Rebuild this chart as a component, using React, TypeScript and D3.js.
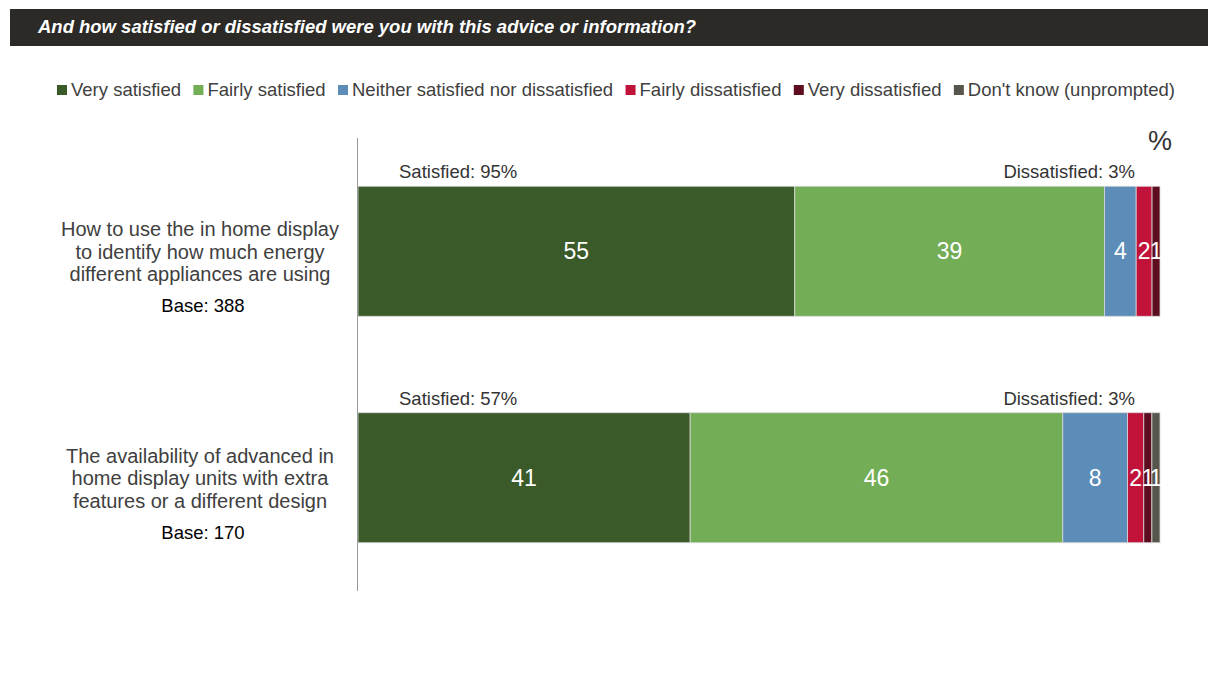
import React, { useEffect, useRef } from "react";
import * as d3 from "d3";

const TITLE = "And how satisfied or dissatisfied were you with this advice or information?";
const seriesNames = [
  "Very satisfied",
  "Fairly satisfied",
  "Neither satisfied nor dissatisfied",
  "Fairly dissatisfied",
  "Very dissatisfied",
  "Don't know (unprompted)",
];
const seriesColors = ["#3a5a29", "#73ad55", "#5b8db8", "#c1133a", "#5e0d1e", "#58554c"];
const categories = [
  ["How to use the in home display", "to identify how much energy", "different appliances are using"],
  ["The availability of advanced in", "home display units with extra", "features or a different design"],
];
const bases = ["Base: 388", "Base: 170"];
const satisfiedLabels = ["Satisfied: 95%", "Satisfied: 57%"];
const dissatisfiedLabels = ["Dissatisfied: 3%", "Dissatisfied: 3%"];
const values1 = [55, 39, 4, 2, 1, 0];
const values2 = [41, 46, 8, 2, 1, 1];
const rows = [values1, values2];

const W = 1208;
const H = 691;
const FONT = "'Liberation Sans', Arial, sans-serif";

export default function App() {
  const ref = useRef<SVGSVGElement | null>(null);
  useEffect(() => {
    const svg = d3.select(ref.current);
    svg.selectAll("*").remove();

    // Title bar
    svg.append("rect").attr("x", 10).attr("y", 9).attr("width", W - 10).attr("height", 37).attr("fill", "#2b2a26");
    svg.append("text").attr("x", 38).attr("y", 33).attr("fill", "#fff")
      .attr("font-family", FONT).attr("font-size", 18).attr("font-weight", "bold").attr("font-style", "italic")
      .attr("textLength", 658).attr("lengthAdjust", "spacingAndGlyphs")
      .text(TITLE);

    // Legend
    const lg = svg.append("g");
    const texts: any[] = [];
    const widths: number[] = [];
    seriesNames.forEach((name) => {
      const t = lg.append("text").attr("y", 96).attr("fill", "#404040")
        .attr("font-family", FONT).attr("font-size", 18.5).text(name);
      texts.push(t);
      widths.push((t.node() as SVGTextElement).getComputedTextLength());
    });
    const startX = 57, endX = 1175;
    const gap = (endX - startX - d3.sum(widths.map((w) => 14 + w))) / (seriesNames.length - 1);
    let lx = startX;
    seriesNames.forEach((_, i) => {
      lg.append("rect").attr("x", lx).attr("y", 85).attr("width", 10).attr("height", 10).attr("fill", seriesColors[i]);
      texts[i].attr("x", lx + 14);
      lx += 14 + widths[i] + gap;
    });

    const x = d3.scaleLinear().domain([0, 1]).range([358, 1160]);
    const y = d3.scaleBand<number>().domain([0, 1]).range([138, 591]).paddingInner(0.426).paddingOuter(0.213);

    // % sign
    svg.append("text").attr("x", 1172).attr("y", 150).attr("text-anchor", "end").attr("fill", "#333")
      .attr("font-family", FONT).attr("font-size", 27).text("%");

    rows.forEach((vals, r) => {
      const total = d3.sum(vals);
      const y0 = y(r)!;
      const bw = y.bandwidth();
      const cy = y0 + bw / 2;
      let cum = 0;
      const g = svg.append("g");
      vals.forEach((v, i) => {
        if (v <= 0) return;
        const xs = x(cum / total);
        const xe = x((cum + v) / total);
        cum += v;
        g.append("rect").attr("x", xs).attr("y", y0).attr("width", xe - xs).attr("height", bw)
          .attr("fill", seriesColors[i]).attr("stroke", "#d8d8d8").attr("stroke-width", 0.8);
        g.append("text").attr("x", (xs + xe) / 2).attr("y", cy + 8).attr("text-anchor", "middle")
          .attr("fill", "#fff").attr("font-family", FONT).attr("font-size", 23).text(String(v));
      });

      svg.append("text").attr("x", 399).attr("y", y0 - 8).attr("fill", "#333")
        .attr("font-family", FONT).attr("font-size", 18.5).text(satisfiedLabels[r]);
      svg.append("text").attr("x", 1135).attr("y", y0 - 8).attr("text-anchor", "end").attr("fill", "#333")
        .attr("font-family", FONT).attr("font-size", 18.5).text(dissatisfiedLabels[r]);

      categories[r].forEach((line, li) => {
        svg.append("text").attr("x", 200).attr("y", cy - 15 + li * 22.5).attr("text-anchor", "middle")
          .attr("fill", "#404040").attr("font-family", FONT).attr("font-size", 20).text(line);
      });
      svg.append("text").attr("x", 203).attr("y", cy + 61).attr("text-anchor", "middle")
        .attr("fill", "#000").attr("font-family", FONT).attr("font-size", 18.5).text(bases[r]);
    });

    // Axis line
    svg.append("line").attr("x1", 357.5).attr("x2", 357.5).attr("y1", 138).attr("y2", 591)
      .attr("stroke", "#999").attr("stroke-width", 1);
  }, []);

  return (
    <svg ref={ref} width={W} height={H} style={{ position: "absolute", left: 0, top: 0, background: "#fff" }} />
  );
}
